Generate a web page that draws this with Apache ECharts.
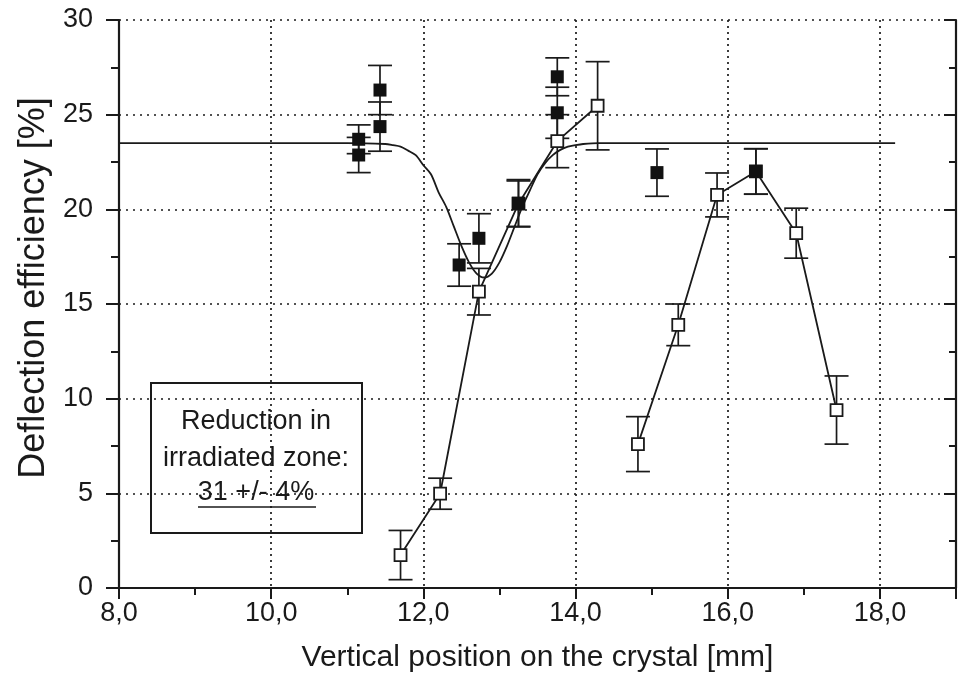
<!DOCTYPE html>
<html><head><meta charset="utf-8">
<script src="https://cdn.jsdelivr.net/npm/echarts@6/dist/echarts.min.js"></script>
<style>html,body{margin:0;padding:0;background:#fff}#c{width:963px;height:692px}</style>
</head><body><div id="c"></div>
<script>
// tick labels
const xTickLabels = ['8,0', '10,0', '12,0', '14,0', '16,0', '18,0'];
const yTickLabels = ['0', '5', '10', '15', '20', '25', '30'];

// filled squares (with error bars)
const filledX = [11.15, 11.15, 11.43, 11.43, 12.47, 12.73, 13.25, 13.76, 13.76, 15.07, 16.37];
const filledY = [23.7, 22.87, 26.3, 24.37, 17.06, 18.47, 20.32, 27.0, 25.1, 21.94, 22.0];
const filledErr = [0.76, 0.93, 1.3, 1.3, 1.12, 1.3, 1.25, 1.0, 1.35, 1.25, 1.2];

// open squares, first scan (connected)
const openAX = [11.70, 12.22, 12.73, 13.25, 13.76, 14.29];
const openAY = [1.74, 4.98, 15.65, 20.3, 23.6, 25.47];
const openAErr = [1.3, 0.82, 1.23, 1.2, 1.4, 2.33];

// open squares, second scan (connected)
const openBX = [14.82, 15.35, 15.86, 16.37, 16.90, 17.43];
const openBY = [7.6, 13.9, 20.76, 22.0, 18.74, 9.4];
const openBErr = [1.45, 1.1, 1.16, 1.2, 1.32, 1.8];

// fitted curve
const fitX = [8.0, 10.0, 11.0, 11.5, 11.6, 11.7, 11.8, 11.9, 12.0, 12.1, 12.2, 12.3, 12.4, 12.5, 12.6, 12.7, 12.8,
              12.9, 13.0, 13.1, 13.2, 13.3, 13.4, 13.5, 13.6, 13.7, 13.8, 13.9, 14.0, 14.1, 14.3, 16.0, 18.2];
const fitY = [23.5, 23.5, 23.5, 23.45, 23.39, 23.31, 23.1, 22.86, 22.33, 21.85, 20.9, 20.13, 19.1, 18.07, 17.2, 16.61, 16.4,
              16.61, 17.2, 18.07, 19.1, 20.13, 21.0, 21.85, 22.44, 22.86, 23.14, 23.31, 23.39, 23.45, 23.5, 23.5, 23.5];

const FONT = 'Liberation Sans, Arial, sans-serif';
const INK = '#1a1a1a';

const zip = (xs, ys) => xs.map((x, i) => [x, ys[i]]);
const zipErr = (xs, ys, es) => xs.map((x, i) => [x, ys[i], es[i]]);

function errRender(params, api) {
  const x = api.value(0), y = api.value(1), e = api.value(2);
  const top = api.coord([x, y + e]);
  const bot = api.coord([x, y - e]);
  const hw = 12;
  const st = { stroke: INK, lineWidth: 1.7 };
  return {
    type: 'group',
    children: [
      { type: 'line', shape: { x1: top[0], y1: top[1], x2: bot[0], y2: bot[1] }, style: st },
      { type: 'line', shape: { x1: top[0] - hw, y1: top[1], x2: top[0] + hw, y2: top[1] }, style: st },
      { type: 'line', shape: { x1: bot[0] - hw, y1: bot[1], x2: bot[0] + hw, y2: bot[1] }, style: st }
    ]
  };
}

const chart = echarts.init(document.getElementById('c'), null, { renderer: 'canvas' });

const axisLineStyle = { color: INK, width: 2.2 };
const gridStyle = (dash) => ({ show: true, lineStyle: { color: INK, width: 1.7, type: dash } });

const option = {
  animation: false,
  backgroundColor: '#fff',
  grid: { left: 119, right: 7, top: 20, bottom: 104, containLabel: false },
  xAxis: [
    {
      type: 'value', min: 8, max: 19, interval: 2, position: 'bottom',
      name: 'Vertical position on the crystal [mm]', nameLocation: 'middle', nameGap: 55,
      nameTextStyle: { fontFamily: FONT, fontSize: 30, color: INK },
      axisLine: { show: true, lineStyle: axisLineStyle },
      axisTick: { show: true, inside: false, length: 11, lineStyle: { color: INK, width: 2 } },
      minorTick: { show: true, splitNumber: 2, length: 6, lineStyle: { color: INK, width: 2 } },
      axisLabel: {
        fontFamily: FONT, fontSize: 27, color: INK, margin: 12, showMaxLabel: false,
        formatter: (v) => { const i = Math.round((v - 8) / 2); return xTickLabels[i] || ''; }
      },
      splitLine: gridStyle([2, 4]),
      minorSplitLine: { show: false }
    },
    {
      type: 'value', min: 8, max: 19, interval: 2, position: 'top',
      axisLine: { show: true, lineStyle: axisLineStyle },
      axisTick: { show: true, inside: true, length: 10, lineStyle: { color: INK, width: 2 } },
      minorTick: { show: true, splitNumber: 2, length: 7, lineStyle: { color: INK, width: 2 } },
      axisLabel: { show: false }, splitLine: { show: false }
    }
  ],
  yAxis: [
    {
      type: 'value', min: 0, max: 30, interval: 5, position: 'left',
      name: 'Deflection efficiency [%]', nameLocation: 'middle', nameGap: 67,
      nameTextStyle: { fontFamily: FONT, fontSize: 36, color: INK, padding: [0, 0, 0, 32] },
      axisLine: { show: true, lineStyle: axisLineStyle },
      axisTick: { show: true, inside: false, length: 13, lineStyle: { color: INK, width: 2 } },
      minorTick: { show: true, splitNumber: 2, length: 8, lineStyle: { color: INK, width: 2 } },
      axisLabel: {
        fontFamily: FONT, fontSize: 27, color: INK, margin: 26,
        formatter: (v) => { const i = Math.round(v / 5); return yTickLabels[i] || ''; }
      },
      splitLine: gridStyle([2, 5])
    },
    {
      type: 'value', min: 0, max: 30, interval: 5, position: 'right',
      axisLine: { show: true, lineStyle: axisLineStyle },
      axisTick: { show: true, inside: true, length: 12, lineStyle: { color: INK, width: 2 } },
      minorTick: { show: true, splitNumber: 2, length: 7, lineStyle: { color: INK, width: 2 } },
      axisLabel: { show: false }, splitLine: { show: false }
    }
  ],
  series: [
    {
      name: 'fit', type: 'line', data: zip(fitX, fitY), smooth: 0.3,
      showSymbol: false, symbol: 'none', lineStyle: { color: INK, width: 1.8 }, z: 2, silent: true
    },
    {
      name: 'errOpenA', type: 'custom', renderItem: errRender, data: zipErr(openAX, openAY, openAErr),
      encode: { x: 0, y: 1 }, z: 3, silent: true
    },
    {
      name: 'errOpenB', type: 'custom', renderItem: errRender, data: zipErr(openBX, openBY, openBErr),
      encode: { x: 0, y: 1 }, z: 3, silent: true
    },
    {
      name: 'errFilled', type: 'custom', renderItem: errRender, data: zipErr(filledX, filledY, filledErr),
      encode: { x: 0, y: 1 }, z: 3, silent: true
    },
    {
      name: 'openA', type: 'line', data: zip(openAX, openAY), symbol: 'rect', symbolSize: 12, showAllSymbol: true,
      lineStyle: { color: INK, width: 1.8 },
      itemStyle: { color: '#fff', borderColor: INK, borderWidth: 1.8 }, z: 4
    },
    {
      name: 'openB', type: 'line', data: zip(openBX, openBY), symbol: 'rect', symbolSize: 12, showAllSymbol: true,
      lineStyle: { color: INK, width: 1.8 },
      itemStyle: { color: '#fff', borderColor: INK, borderWidth: 1.8 }, z: 4
    },
    {
      name: 'filled', type: 'scatter', data: zip(filledX, filledY), symbol: 'rect', symbolSize: 13,
      itemStyle: { color: '#111', borderColor: '#111', borderWidth: 0, opacity: 1 }, z: 5
    }
  ],
  graphic: [
    {
      type: 'group', z: 100,
      children: [
        { type: 'rect', shape: { x: 151, y: 383, width: 211, height: 150 }, style: { fill: '#fff', stroke: INK, lineWidth: 2 } },
        { type: 'text', x: 256, y: 422, style: { text: 'Reduction in', font: '27px ' + FONT, fill: INK, textAlign: 'center', textVerticalAlign: 'middle' } },
        { type: 'text', x: 256, y: 459, style: { text: 'irradiated zone:', font: '27px ' + FONT, fill: INK, textAlign: 'center', textVerticalAlign: 'middle' } },
        { type: 'text', x: 256, y: 493, style: { text: '31 +/- 4%', font: '27px ' + FONT, fill: INK, textAlign: 'center', textVerticalAlign: 'middle' } },
        { type: 'line', shape: { x1: 198, y1: 507, x2: 316, y2: 507 }, style: { stroke: INK, lineWidth: 1.6 } }
      ]
    }
  ]
};
chart.setOption(option);
</script>
</body></html>
